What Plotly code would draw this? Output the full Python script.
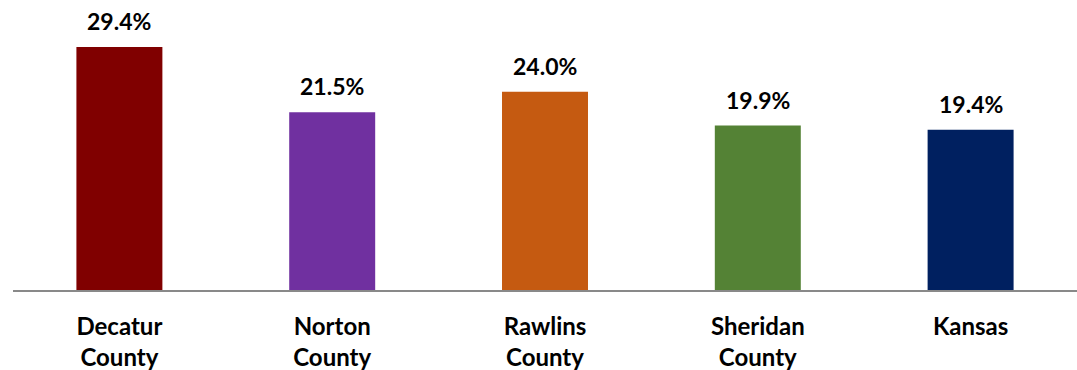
import plotly.graph_objects as go

categories = ["Decatur<br>County", "Norton<br>County", "Rawlins<br>County", "Sheridan<br>County", "Kansas"]
values = [29.4, 21.5, 24.0, 19.9, 19.4]
labels = ["29.4%", "21.5%", "24.0%", "19.9%", "19.4%"]
colors = ["#800000", "#7030A0", "#C55A11", "#548235", "#002060"]

FONT = "Lato"

fig = go.Figure(
    go.Bar(
        x=categories,
        y=values,
        marker=dict(color=colors, line=dict(width=0)),
        hoverinfo="skip",
    )
)

for c, v, t in zip(categories, values, labels):
    fig.add_annotation(
        x=c, y=v, text=f"<b>{t}</b>", showarrow=False,
        yanchor="bottom", yshift=10,
        font=dict(family=FONT, size=23, color="#000000"),
    )

fig.update_layout(
    width=1077, height=370,
    margin=dict(l=13, r=0, t=0, b=80),
    paper_bgcolor="white", plot_bgcolor="white",
    bargap=0.596,
    showlegend=False,
    font=dict(family=FONT, color="#000000"),
)
fig.update_xaxes(
    showline=True, linecolor="#898989", linewidth=2,
    showgrid=False, ticks="",
    tickfont=dict(family=FONT, size=24, color="#000000", weight="bold"),
    ticklabelstandoff=14,
)
fig.update_yaxes(range=[0, 35.1], visible=False, showgrid=False, zeroline=False)

fig.write_html("out.html")
